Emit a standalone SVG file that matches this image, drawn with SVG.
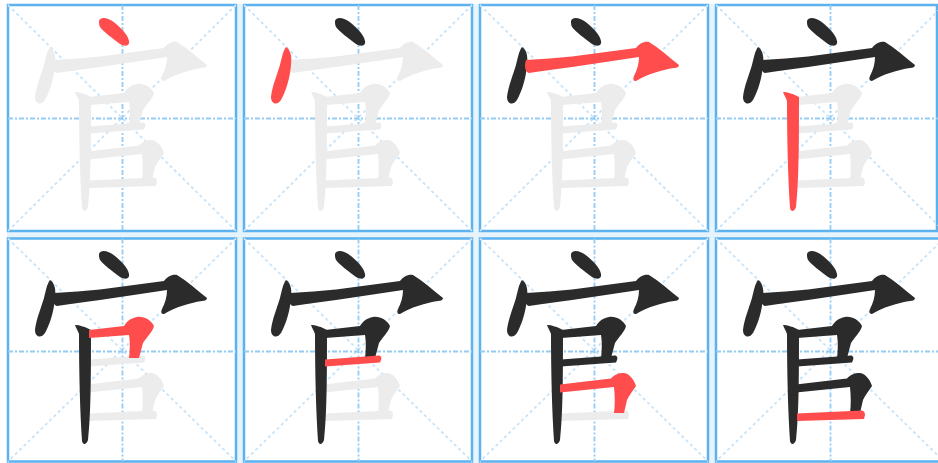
<svg xmlns="http://www.w3.org/2000/svg" width="938" height="463" viewBox="0 0 938 463">
<style>
.gap{fill:#e8f4fc}
.box{fill:#fff;stroke:#5cb2ef;stroke-width:2.5}
.edge{stroke:#5cb2ef;stroke-width:2.5}
.mid{stroke:#94ccf4;stroke-width:1.8;stroke-dasharray:5 2 2 2;fill:none}
.diag{stroke:#c6e3f9;stroke-width:1.8;stroke-dasharray:3 3;fill:none}
.r{fill:#ff4d4d}
.k{fill:#2b2b2b}
.g{fill:#ececec}
</style>
<defs>
<path id="s1" d="M99,21 C101,16 108,18 115,23 C122,29 128,35 129,41 C130,46 125,47 120,44 C112,38 104,32 100,27 C99,25 99,23 99,21 Z"/>
<path id="s2" d="M50,47 C55,50 56,57 55,65 C54,78 50,91 45,100 C41,106 35,104 35,97 C36,87 41,75 44,65 C46,57 47,51 50,47 Z"/>
<path id="s3" d="M54,60 C70,59 85,58 100,56.5 L164,48 C167,44 172,41 177,42 C187,48 197,57 207,65 C207,67 205,68 202,68 C189,70 176,74 164,81 C161,81 161,79 162,76 C165,70 167,64 167,57 L100,67 C85,69 70,71 57,73 C53,72 52,66 54,60 Z"/>
<path id="s4" d="M75,92 C79,92 86,94 91,97 C91,140 91,180 88,207 C87,211 83,213 82,208 C80,180 79,140 79,101 C78,98 76,95 75,92 Z"/>
<path id="s5" d="M89,97 L124,93 C127,88 131,85 137,84 C144,83 151,87 154,93 C153,98 147,104 143,110 L139,125 L129,125 C130,117 130,108 129,102 L89,105 Z"/>
<path id="s6" d="M89,126.5 L143,122.5 C145,122.5 146,125 145,127 L144,129.5 L89,133.5 Z"/>
<path id="s7" d="M88,151.5 L139,145.5 C142,142 146,140 152,140 C158,141 162,147 164,153 C161,158 157,162 155,167 L152,180 L142,180 C143,172 143,164 142,154 L88,159.5 Z"/>
<path id="s8" d="M89,180.5 L154,177.5 C156,177.5 157,180 157,182 L156,186 L89,188 Z"/>
</defs>
<rect class="gap" x="7" y="4" width="931" height="459"/>

<g id="panel1">
<rect class="box" x="8" y="5" width="228" height="226"/>
<line class="diag" x1="8" y1="5" x2="236" y2="231"/><line class="diag" x1="236" y1="5" x2="8" y2="231"/>
<line class="mid" x1="122.5" y1="5" x2="122.5" y2="231"/><line class="mid" x1="8" y1="118.5" x2="236" y2="118.5"/>
<g transform="translate(0,0)">
<use href="#s2" class="g"/><use href="#s3" class="g"/><use href="#s4" class="g"/><use href="#s5" class="g"/><use href="#s6" class="g"/><use href="#s7" class="g"/><use href="#s8" class="g"/>
<use href="#s1" class="r"/>
</g>
</g>

<g id="panel2">
<rect class="box" x="244" y="5" width="228" height="226"/>
<line class="diag" x1="244" y1="5" x2="472" y2="231"/><line class="diag" x1="472" y1="5" x2="244" y2="231"/>
<line class="mid" x1="358.5" y1="5" x2="358.5" y2="231"/><line class="mid" x1="244" y1="118.5" x2="472" y2="118.5"/>
<g transform="translate(236,0)">
<use href="#s3" class="g"/><use href="#s4" class="g"/><use href="#s5" class="g"/><use href="#s6" class="g"/><use href="#s7" class="g"/><use href="#s8" class="g"/>
<use href="#s1" class="k"/>
<use href="#s2" class="r"/>
</g>
</g>

<g id="panel3">
<rect class="box" x="480" y="5" width="228" height="226"/>
<line class="diag" x1="480" y1="5" x2="708" y2="231"/><line class="diag" x1="708" y1="5" x2="480" y2="231"/>
<line class="mid" x1="594.5" y1="5" x2="594.5" y2="231"/><line class="mid" x1="480" y1="118.5" x2="708" y2="118.5"/>
<g transform="translate(472,0)">
<use href="#s4" class="g"/><use href="#s5" class="g"/><use href="#s6" class="g"/><use href="#s7" class="g"/><use href="#s8" class="g"/>
<use href="#s1" class="k"/><use href="#s2" class="k"/>
<use href="#s3" class="r"/>
</g>
</g>

<g id="panel4">
<rect class="box" x="716" y="5" width="228" height="226"/>
<line class="edge" x1="937" y1="4" x2="937" y2="232"/>
<line class="diag" x1="716" y1="5" x2="944" y2="231"/><line class="diag" x1="944" y1="5" x2="716" y2="231"/>
<line class="mid" x1="830.5" y1="5" x2="830.5" y2="231"/><line class="mid" x1="716" y1="118.5" x2="944" y2="118.5"/>
<g transform="translate(708,0)">
<use href="#s5" class="g"/><use href="#s6" class="g"/><use href="#s7" class="g"/><use href="#s8" class="g"/>
<use href="#s1" class="k"/><use href="#s2" class="k"/><use href="#s3" class="k"/>
<use href="#s4" class="r"/>
</g>
</g>

<g id="panel5">
<rect class="box" x="8" y="238.5" width="228" height="223"/>
<line class="diag" x1="8" y1="238.5" x2="236" y2="461.5"/><line class="diag" x1="236" y1="238.5" x2="8" y2="461.5"/>
<line class="mid" x1="122.5" y1="238.5" x2="122.5" y2="461.5"/><line class="mid" x1="8" y1="351.5" x2="236" y2="351.5"/>
<g transform="translate(0,233)">
<use href="#s6" class="g"/><use href="#s7" class="g"/><use href="#s8" class="g"/>
<use href="#s1" class="k"/><use href="#s2" class="k"/><use href="#s3" class="k"/><use href="#s4" class="k"/>
<use href="#s5" class="r"/>
</g>
</g>

<g id="panel6">
<rect class="box" x="244" y="238.5" width="228" height="223"/>
<line class="diag" x1="244" y1="238.5" x2="472" y2="461.5"/><line class="diag" x1="472" y1="238.5" x2="244" y2="461.5"/>
<line class="mid" x1="358.5" y1="238.5" x2="358.5" y2="461.5"/><line class="mid" x1="244" y1="351.5" x2="472" y2="351.5"/>
<g transform="translate(236,233)">
<use href="#s7" class="g"/><use href="#s8" class="g"/>
<use href="#s1" class="k"/><use href="#s2" class="k"/><use href="#s3" class="k"/><use href="#s4" class="k"/><use href="#s5" class="k"/>
<use href="#s6" class="r"/>
</g>
</g>

<g id="panel7">
<rect class="box" x="480" y="238.5" width="228" height="223"/>
<line class="diag" x1="480" y1="238.5" x2="708" y2="461.5"/><line class="diag" x1="708" y1="238.5" x2="480" y2="461.5"/>
<line class="mid" x1="594.5" y1="238.5" x2="594.5" y2="461.5"/><line class="mid" x1="480" y1="351.5" x2="708" y2="351.5"/>
<g transform="translate(472,233)">
<use href="#s8" class="g"/>
<use href="#s1" class="k"/><use href="#s2" class="k"/><use href="#s3" class="k"/><use href="#s4" class="k"/><use href="#s5" class="k"/><use href="#s6" class="k"/>
<use href="#s7" class="r"/>
</g>
</g>

<g id="panel8">
<rect class="box" x="716" y="238.5" width="228" height="223"/>
<line class="diag" x1="716" y1="238.5" x2="944" y2="461.5"/><line class="diag" x1="944" y1="238.5" x2="716" y2="461.5"/>
<line class="mid" x1="830.5" y1="238.5" x2="830.5" y2="461.5"/><line class="mid" x1="716" y1="351.5" x2="944" y2="351.5"/>
<g transform="translate(708,233)">
<use href="#s1" class="k"/><use href="#s2" class="k"/><use href="#s3" class="k"/><use href="#s4" class="k"/><use href="#s5" class="k"/><use href="#s6" class="k"/><use href="#s7" class="k"/>
<use href="#s8" class="r"/>
</g>
</g>
</svg>
